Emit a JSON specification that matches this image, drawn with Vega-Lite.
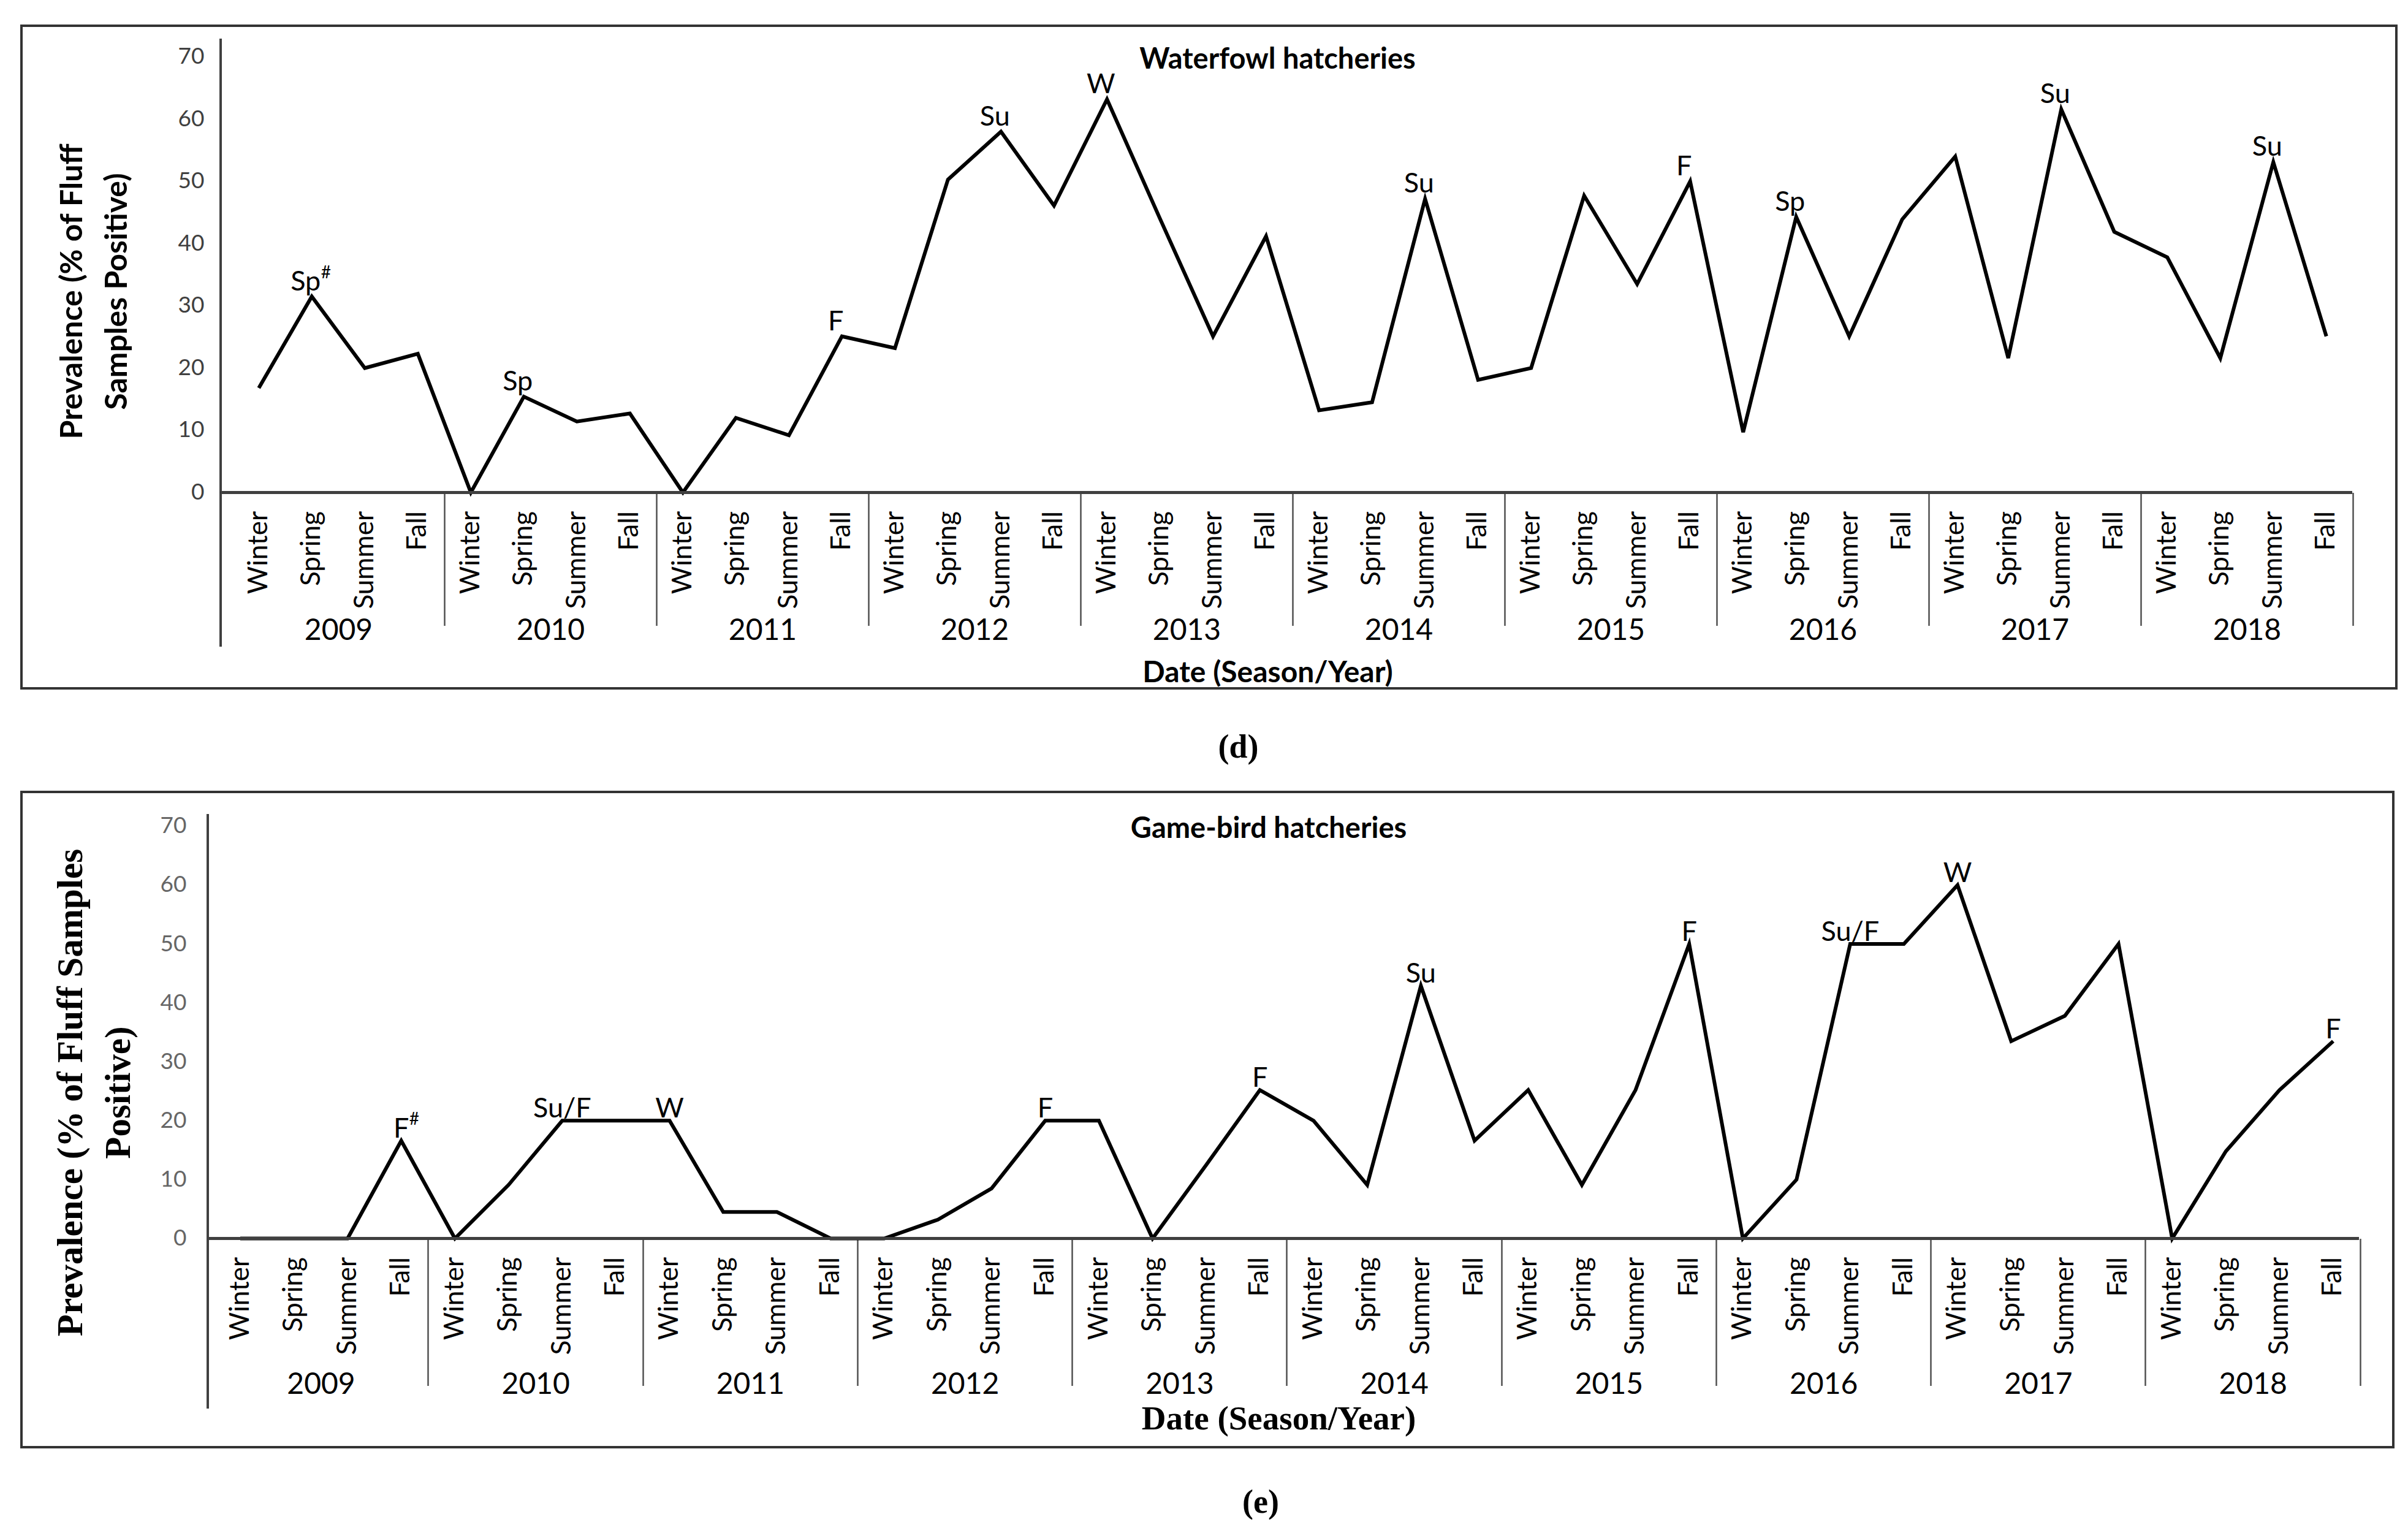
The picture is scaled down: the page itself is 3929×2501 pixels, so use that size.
{
  "$schema": "https://vega.github.io/schema/vega-lite/v6.json",
  "background": "white",
  "padding": {"left": 33, "top": 40, "right": 0, "bottom": 0},
  "spacing": 43,
  "config": {"view": {"stroke": "#333333", "strokeWidth": 4}, "font": "Lato"},
  "datasets": {
    "waterfowl": [
      {"year": 2009, "season": "Winter", "t": 2009.00, "value": 16.8},
      {"year": 2009, "season": "Spring", "t": 2009.25, "value": 31.5, "label": "Sp", "sup": "#"},
      {"year": 2009, "season": "Summer", "t": 2009.50, "value": 20.0},
      {"year": 2009, "season": "Fall", "t": 2009.75, "value": 22.3},
      {"year": 2010, "season": "Winter", "t": 2010.00, "value": 0},
      {"year": 2010, "season": "Spring", "t": 2010.25, "value": 15.4, "label": "Sp"},
      {"year": 2010, "season": "Summer", "t": 2010.50, "value": 11.4},
      {"year": 2010, "season": "Fall", "t": 2010.75, "value": 12.7},
      {"year": 2011, "season": "Winter", "t": 2011.00, "value": 0},
      {"year": 2011, "season": "Spring", "t": 2011.25, "value": 12.0},
      {"year": 2011, "season": "Summer", "t": 2011.50, "value": 9.2},
      {"year": 2011, "season": "Fall", "t": 2011.75, "value": 25.1, "label": "F"},
      {"year": 2012, "season": "Winter", "t": 2012.00, "value": 23.2},
      {"year": 2012, "season": "Spring", "t": 2012.25, "value": 50.3},
      {"year": 2012, "season": "Summer", "t": 2012.50, "value": 58.0, "label": "Su"},
      {"year": 2012, "season": "Fall", "t": 2012.75, "value": 46.1},
      {"year": 2013, "season": "Winter", "t": 2013.00, "value": 63.2, "label": "W"},
      {"year": 2013, "season": "Spring", "t": 2013.25, "value": 44.0},
      {"year": 2013, "season": "Summer", "t": 2013.50, "value": 25.1},
      {"year": 2013, "season": "Fall", "t": 2013.75, "value": 41.2},
      {"year": 2014, "season": "Winter", "t": 2014.00, "value": 13.2},
      {"year": 2014, "season": "Spring", "t": 2014.25, "value": 14.5},
      {"year": 2014, "season": "Summer", "t": 2014.50, "value": 47.2, "label": "Su"},
      {"year": 2014, "season": "Fall", "t": 2014.75, "value": 18.1},
      {"year": 2015, "season": "Winter", "t": 2015.00, "value": 20.0},
      {"year": 2015, "season": "Spring", "t": 2015.25, "value": 47.7},
      {"year": 2015, "season": "Summer", "t": 2015.50, "value": 33.5},
      {"year": 2015, "season": "Fall", "t": 2015.75, "value": 50.0, "label": "F"},
      {"year": 2016, "season": "Winter", "t": 2016.00, "value": 9.7},
      {"year": 2016, "season": "Spring", "t": 2016.25, "value": 44.3, "label": "Sp"},
      {"year": 2016, "season": "Summer", "t": 2016.50, "value": 25.1},
      {"year": 2016, "season": "Fall", "t": 2016.75, "value": 43.9},
      {"year": 2017, "season": "Winter", "t": 2017.00, "value": 54.0},
      {"year": 2017, "season": "Spring", "t": 2017.25, "value": 21.6},
      {"year": 2017, "season": "Summer", "t": 2017.50, "value": 61.6, "label": "Su"},
      {"year": 2017, "season": "Fall", "t": 2017.75, "value": 41.9},
      {"year": 2018, "season": "Winter", "t": 2018.00, "value": 37.8},
      {"year": 2018, "season": "Spring", "t": 2018.25, "value": 21.6},
      {"year": 2018, "season": "Summer", "t": 2018.50, "value": 53.1, "label": "Su"},
      {"year": 2018, "season": "Fall", "t": 2018.75, "value": 25.1}
    ],
    "gamebird": [
      {"year": 2009, "season": "Winter", "t": 2009.00, "value": 0},
      {"year": 2009, "season": "Spring", "t": 2009.25, "value": 0},
      {"year": 2009, "season": "Summer", "t": 2009.50, "value": 0},
      {"year": 2009, "season": "Fall", "t": 2009.75, "value": 16.6, "label": "F", "sup": "#"},
      {"year": 2010, "season": "Winter", "t": 2010.00, "value": 0},
      {"year": 2010, "season": "Spring", "t": 2010.25, "value": 9.1},
      {"year": 2010, "season": "Summer", "t": 2010.50, "value": 20.0, "label": "Su/F"},
      {"year": 2010, "season": "Fall", "t": 2010.75, "value": 20.0},
      {"year": 2011, "season": "Winter", "t": 2011.00, "value": 20.0, "label": "W"},
      {"year": 2011, "season": "Spring", "t": 2011.25, "value": 4.5},
      {"year": 2011, "season": "Summer", "t": 2011.50, "value": 4.5},
      {"year": 2011, "season": "Fall", "t": 2011.75, "value": 0},
      {"year": 2012, "season": "Winter", "t": 2012.00, "value": 0},
      {"year": 2012, "season": "Spring", "t": 2012.25, "value": 3.2},
      {"year": 2012, "season": "Summer", "t": 2012.50, "value": 8.5},
      {"year": 2012, "season": "Fall", "t": 2012.75, "value": 20.0, "label": "F"},
      {"year": 2013, "season": "Winter", "t": 2013.00, "value": 20.0},
      {"year": 2013, "season": "Spring", "t": 2013.25, "value": 0},
      {"year": 2013, "season": "Summer", "t": 2013.50, "value": 12.5},
      {"year": 2013, "season": "Fall", "t": 2013.75, "value": 25.2, "label": "F"},
      {"year": 2014, "season": "Winter", "t": 2014.00, "value": 20.0},
      {"year": 2014, "season": "Spring", "t": 2014.25, "value": 9.1},
      {"year": 2014, "season": "Summer", "t": 2014.50, "value": 42.9, "label": "Su"},
      {"year": 2014, "season": "Fall", "t": 2014.75, "value": 16.6},
      {"year": 2015, "season": "Winter", "t": 2015.00, "value": 25.2},
      {"year": 2015, "season": "Spring", "t": 2015.25, "value": 9.1},
      {"year": 2015, "season": "Summer", "t": 2015.50, "value": 25.2},
      {"year": 2015, "season": "Fall", "t": 2015.75, "value": 50.0, "label": "F"},
      {"year": 2016, "season": "Winter", "t": 2016.00, "value": 0},
      {"year": 2016, "season": "Spring", "t": 2016.25, "value": 10.0},
      {"year": 2016, "season": "Summer", "t": 2016.50, "value": 50.0, "label": "Su/F"},
      {"year": 2016, "season": "Fall", "t": 2016.75, "value": 50.0},
      {"year": 2017, "season": "Winter", "t": 2017.00, "value": 60.0, "label": "W"},
      {"year": 2017, "season": "Spring", "t": 2017.25, "value": 33.5},
      {"year": 2017, "season": "Summer", "t": 2017.50, "value": 37.8},
      {"year": 2017, "season": "Fall", "t": 2017.75, "value": 50.0},
      {"year": 2018, "season": "Winter", "t": 2018.00, "value": 0},
      {"year": 2018, "season": "Spring", "t": 2018.25, "value": 14.8},
      {"year": 2018, "season": "Summer", "t": 2018.50, "value": 25.2},
      {"year": 2018, "season": "Fall", "t": 2018.75, "value": 33.5, "label": "F"}
    ]
  },
  "vconcat": [
    {
      "title": {"text": "(d)", "orient": "bottom", "anchor": "middle", "offset": 68, "baseline": "top", "dx": 48, "font": "Liberation Serif", "fontSize": 54, "fontWeight": "bold", "color": "#000000"},
      "vconcat": [
        {
          "width": 3875,
          "height": 1081,
          "data": {"name": "waterfowl"},
          "title": {"text": "Waterfowl hatcheries", "frame": "group", "orient": "top", "anchor": "middle", "baseline": "alphabetic", "offset": -117, "dx": 112, "font": "Lato", "fontSize": 47, "fontWeight": "bold", "color": "#000000"},
          "layer": [
            {
              "mark": {"type": "line", "color": "#000000", "strokeWidth": 6, "strokeJoin": "miter"},
              "encoding": {
                "x": {"field": "t", "type": "quantitative", "scale": {"domain": [2007.8808, 2019.0802], "nice": false, "zero": false},
                  "axis": {"orient": "bottom", "offset": -319.5, "values": [2009, 2009.25, 2009.5, 2009.75, 2010, 2010.25, 2010.5, 2010.75, 2011, 2011.25, 2011.5, 2011.75, 2012, 2012.25, 2012.5, 2012.75, 2013, 2013.25, 2013.5, 2013.75, 2014, 2014.25, 2014.5, 2014.75, 2015, 2015.25, 2015.5, 2015.75, 2016, 2016.25, 2016.5, 2016.75, 2017, 2017.25, 2017.5, 2017.75, 2018, 2018.25, 2018.5, 2018.75],
                    "labelExpr": "['Winter','Spring','Summer','Fall'][round((datum.value - floor(datum.value)) * 4)]",
                    "labelAngle": 270, "labelAlign": "right", "labelBaseline": "middle", "labelPadding": 30, "labelFont": "Lato", "labelFontSize": 44, "labelColor": "#000000", "labelOverlap": false, "labelFlush": false, "labelBound": false,
                    "ticks": false, "tickSize": 0, "domain": false, "grid": false,
                    "title": "Date (Season/Year)", "titleFont": "Lato", "titleFontSize": 48, "titleFontWeight": "bold", "titleColor": "#000000", "titleX": 2033, "titleY": 271, "titleBaseline": "top", "titleAlign": "center", "titleAnchor": "middle"}},
                "y": {"field": "value", "type": "quantitative", "scale": {"domain": [-31.48, 75.02], "nice": false, "zero": false},
                  "axis": {"orient": "left", "offset": -325, "values": [0, 10, 20, 30, 40, 50, 60, 70], "domain": false, "ticks": false, "tickSize": 0, "grid": false, "labelFont": "Lato", "labelFontSize": 37, "labelColor": "#404040", "labelPadding": 27, "zindex": 2,
                    "title": ["Prevalence (% of Fluff", "Samples Positive)"], "titleFont": "Lato", "titleFontSize": 50, "titleFontWeight": "bold", "titleColor": "#000000", "titlePadding": 74, "titleY": 433, "titleLineHeight": 73, "titleAnchor": "middle"}}
              }
            },
            {
              "mark": {"type": "rule", "color": "#404040", "strokeWidth": 3},
              "encoding": {
                "x": {"datum": 2008.82, "type": "quantitative", "scale": {"domain": [2007.8808, 2019.0802], "nice": false, "zero": false}, "axis": null},
                "y": {"datum": 72.95, "type": "quantitative", "scale": {"domain": [-31.48, 75.02], "nice": false, "zero": false}, "axis": null},
                "y2": {"datum": -24.78}
              }
            },
            {
              "mark": {"type": "rule", "color": "#404040", "strokeWidth": 3.5},
              "encoding": {
                "x": {"datum": 2008.82, "type": "quantitative", "scale": {"domain": [2007.8808, 2019.0802], "nice": false, "zero": false}, "axis": null},
                "x2": {"datum": 2018.87},
                "y": {"datum": 0, "type": "quantitative", "scale": {"domain": [-31.48, 75.02], "nice": false, "zero": false}, "axis": null}
              }
            },
            {
              "transform": [{"filter": "datum.label != null"}],
              "mark": {"type": "text", "font": "Lato", "fontSize": 45, "align": "center", "baseline": "alphabetic", "dx": -10, "dy": -10, "color": "#000000"},
              "encoding": {
                "x": {"field": "t", "type": "quantitative", "scale": {"domain": [2007.8808, 2019.0802], "nice": false, "zero": false},
                  "axis": {"orient": "bottom", "offset": -319.5, "values": [2009.875, 2010.875, 2011.875, 2012.875, 2013.875, 2014.875, 2015.875, 2016.875, 2017.875, 2018.875],
                    "labelExpr": "'' + round(datum.value - 0.875)", "labelOffset": -173, "labelPadding": 9, "labelBaseline": "middle", "labelAngle": 0, "labelAlign": "center", "labelFont": "Lato", "labelFontSize": 48, "labelColor": "#000000", "labelOverlap": false, "labelFlush": false, "labelBound": false,
                    "ticks": true, "tickSize": 217, "tickWidth": 2.5, "tickColor": "#505050", "domain": false, "grid": false, "title": null}},
                "y": {"field": "value", "type": "quantitative", "scale": {"domain": [-31.48, 75.02], "nice": false, "zero": false}, "axis": null},
                "text": {"field": "label"}
              }
            },
            {
              "transform": [{"filter": "datum.sup != null"}],
              "mark": {"type": "text", "font": "Lato", "fontSize": 28, "align": "left", "baseline": "alphabetic", "dx": 15, "dy": -30, "color": "#000000"},
              "encoding": {
                "x": {"field": "t", "type": "quantitative", "scale": {"domain": [2007.8808, 2019.0802], "nice": false, "zero": false}, "axis": null},
                "y": {"field": "value", "type": "quantitative", "scale": {"domain": [-31.48, 75.02], "nice": false, "zero": false}, "axis": null},
                "text": {"field": "sup"}
              }
            }
          ],
          "resolve": {"axis": {"x": "independent", "y": "independent"}}
        }
      ]
    },
    {
      "title": {"text": "(e)", "orient": "bottom", "anchor": "middle", "offset": 62, "baseline": "top", "dx": 87, "font": "Liberation Serif", "fontSize": 54, "fontWeight": "bold", "color": "#000000"},
      "vconcat": [
        {
          "width": 3870,
          "height": 1069,
          "data": {"name": "gamebird"},
          "title": {"text": "Game-bird hatcheries", "frame": "group", "orient": "top", "anchor": "middle", "baseline": "alphabetic", "offset": -122, "dx": 100, "font": "Lato", "fontSize": 47, "fontWeight": "bold", "color": "#000000"},
          "layer": [
            {
              "mark": {"type": "line", "color": "#000000", "strokeWidth": 6, "strokeJoin": "miter"},
              "encoding": {
                "x": {"field": "t", "type": "quantitative", "scale": {"domain": [2007.9807, 2019.03], "nice": false, "zero": false},
                  "axis": {"orient": "bottom", "offset": -340.5, "values": [2009, 2009.25, 2009.5, 2009.75, 2010, 2010.25, 2010.5, 2010.75, 2011, 2011.25, 2011.5, 2011.75, 2012, 2012.25, 2012.5, 2012.75, 2013, 2013.25, 2013.5, 2013.75, 2014, 2014.25, 2014.5, 2014.75, 2015, 2015.25, 2015.5, 2015.75, 2016, 2016.25, 2016.5, 2016.75, 2017, 2017.25, 2017.5, 2017.75, 2018, 2018.25, 2018.5, 2018.75],
                    "labelExpr": "['Winter','Spring','Summer','Fall'][round((datum.value - floor(datum.value)) * 4)]",
                    "labelAngle": 270, "labelAlign": "right", "labelBaseline": "middle", "labelPadding": 30, "labelFont": "Lato", "labelFontSize": 44, "labelColor": "#000000", "labelOverlap": false, "labelFlush": false, "labelBound": false,
                    "ticks": false, "tickSize": 0, "domain": false, "grid": false,
                    "title": "Date (Season/Year)", "titleFont": "Liberation Serif", "titleFontSize": 55, "titleFontWeight": "bold", "titleColor": "#000000", "titleX": 2051, "titleY": 268, "titleBaseline": "top", "titleAlign": "center", "titleAnchor": "middle"}},
                "y": {"field": "value", "type": "quantitative", "scale": {"domain": [-35.43, 75.81], "nice": false, "zero": false},
                  "axis": {"orient": "left", "offset": -304, "values": [0, 10, 20, 30, 40, 50, 60, 70], "domain": false, "ticks": false, "tickSize": 0, "grid": false, "labelFont": "Lato", "labelFontSize": 37, "labelColor": "#666666", "labelPadding": 35, "zindex": 2,
                    "title": ["Prevalence (% of Fluff Samples", "Positive)"], "titleFont": "Liberation Serif", "titleFontSize": 59, "titleFontWeight": "bold", "titleColor": "#000000", "titlePadding": 38, "titleY": 490, "titleLineHeight": 78, "titleAnchor": "middle"}}
              }
            },
            {
              "mark": {"type": "rule", "color": "#404040", "strokeWidth": 3},
              "encoding": {
                "x": {"datum": 2008.8487, "type": "quantitative", "scale": {"domain": [2007.9807, 2019.03], "nice": false, "zero": false}, "axis": null},
                "y": {"datum": 72.06, "type": "quantitative", "scale": {"domain": [-35.43, 75.81], "nice": false, "zero": false}, "axis": null},
                "y2": {"datum": -28.87}
              }
            },
            {
              "mark": {"type": "rule", "color": "#404040", "strokeWidth": 3.5},
              "encoding": {
                "x": {"datum": 2008.8487, "type": "quantitative", "scale": {"domain": [2007.9807, 2019.03], "nice": false, "zero": false}, "axis": null},
                "x2": {"datum": 2018.87},
                "y": {"datum": 0, "type": "quantitative", "scale": {"domain": [-35.43, 75.81], "nice": false, "zero": false}, "axis": null}
              }
            },
            {
              "transform": [{"filter": "datum.label != null"}],
              "mark": {"type": "text", "font": "Lato", "fontSize": 45, "align": "center", "baseline": "alphabetic", "dx": 0, "dy": -5, "color": "#000000"},
              "encoding": {
                "x": {"field": "t", "type": "quantitative", "scale": {"domain": [2007.9807, 2019.03], "nice": false, "zero": false},
                  "axis": {"orient": "bottom", "offset": -340.5, "values": [2009.875, 2010.875, 2011.875, 2012.875, 2013.875, 2014.875, 2015.875, 2016.875, 2017.875, 2018.875],
                    "labelExpr": "'' + round(datum.value - 0.875)", "labelOffset": -175, "labelPadding": -1, "labelBaseline": "middle", "labelAngle": 0, "labelAlign": "center", "labelFont": "Lato", "labelFontSize": 48, "labelColor": "#000000", "labelOverlap": false, "labelFlush": false, "labelBound": false,
                    "ticks": true, "tickSize": 240, "tickWidth": 2.5, "tickColor": "#505050", "domain": false, "grid": false, "title": null}},
                "y": {"field": "value", "type": "quantitative", "scale": {"domain": [-35.43, 75.81], "nice": false, "zero": false}, "axis": null},
                "text": {"field": "label"}
              }
            },
            {
              "transform": [{"filter": "datum.sup != null"}],
              "mark": {"type": "text", "font": "Lato", "fontSize": 28, "align": "left", "baseline": "alphabetic", "dx": 13, "dy": -26, "color": "#000000"},
              "encoding": {
                "x": {"field": "t", "type": "quantitative", "scale": {"domain": [2007.9807, 2019.03], "nice": false, "zero": false}, "axis": null},
                "y": {"field": "value", "type": "quantitative", "scale": {"domain": [-35.43, 75.81], "nice": false, "zero": false}, "axis": null},
                "text": {"field": "sup"}
              }
            }
          ],
          "resolve": {"axis": {"x": "independent", "y": "independent"}}
        }
      ]
    }
  ]
}
